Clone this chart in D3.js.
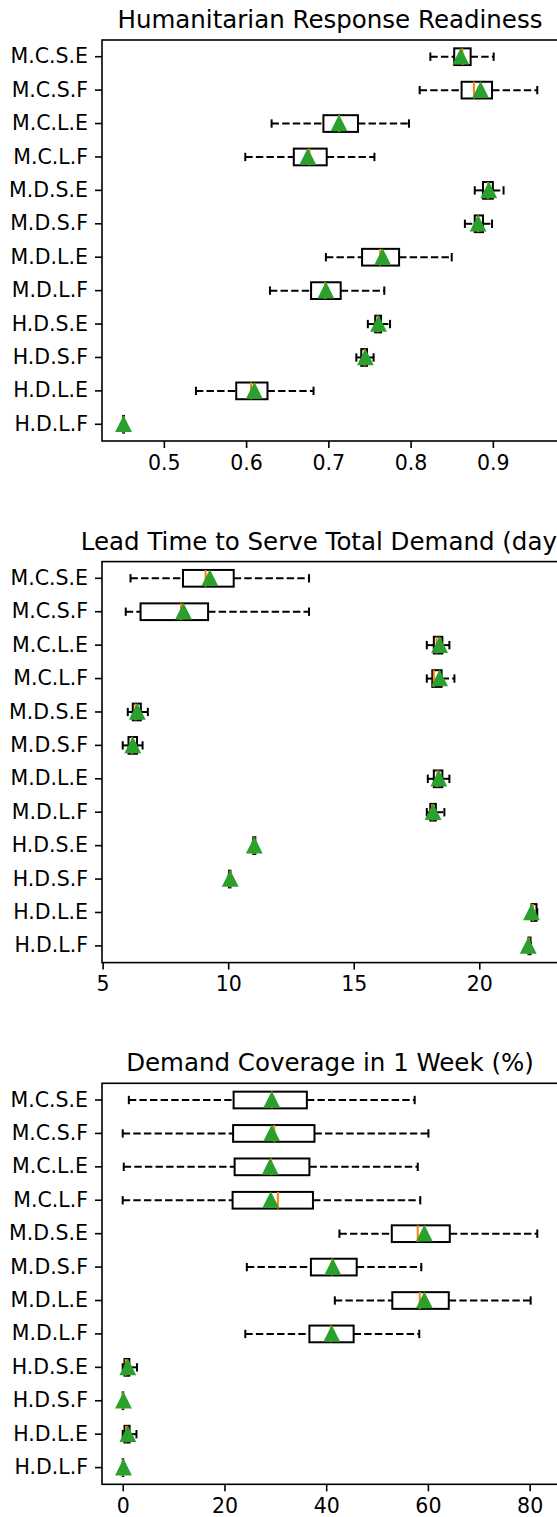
<!DOCTYPE html>
<html>
<meta charset="utf-8">
<script src="https://d3js.org/d3.v7.min.js"></script>
<style>
  body { margin: 0; background: #fff; }
  svg { display: block; overflow: hidden; }
  text { font-family: "DejaVu Sans", sans-serif; fill: #000; }
</style>
<body>
<div id="chart"></div>
<script>
// row order = top to bottom
var categories = ["M.C.S.E", "M.C.S.F", "M.C.L.E", "M.C.L.F", "M.D.S.E", "M.D.S.F",
                  "M.D.L.E", "M.D.L.F", "H.D.S.E", "H.D.S.F", "H.D.L.E", "H.D.L.F"];

// each row: [whisker low, q1, median, q3, whisker high, mean]
var readiness = [
  [0.824, 0.853, 0.863, 0.873, 0.901, 0.861],
  [0.811, 0.862, 0.877, 0.899, 0.954, 0.885],
  [0.631, 0.694, 0.713, 0.736, 0.798, 0.713],
  [0.599, 0.658, 0.677, 0.698, 0.756, 0.675],
  [0.878, 0.888, 0.894, 0.900, 0.913, 0.895],
  [0.866, 0.878, 0.882, 0.888, 0.899, 0.882],
  [0.697, 0.741, 0.763, 0.786, 0.850, 0.766],
  [0.629, 0.679, 0.696, 0.715, 0.768, 0.697],
  [0.748, 0.757, 0.760, 0.764, 0.775, 0.761],
  [0.734, 0.740, 0.744, 0.747, 0.755, 0.745],
  [0.539, 0.588, 0.606, 0.626, 0.682, 0.610],
  [0.450, 0.4505, 0.451, 0.4515, 0.452, 0.451]
];

var leadTime = [
  [6.11, 8.20, 9.10, 10.22, 13.22, 9.27],
  [5.92, 6.51, 8.12, 9.20, 13.22, 8.22],
  [17.91, 18.19, 18.30, 18.53, 18.81, 18.42],
  [17.91, 18.13, 18.19, 18.50, 19.01, 18.42],
  [6.00, 6.20, 6.31, 6.52, 6.80, 6.38],
  [5.80, 6.03, 6.17, 6.37, 6.59, 6.20],
  [17.95, 18.19, 18.33, 18.53, 18.81, 18.39],
  [17.91, 18.05, 18.13, 18.27, 18.61, 18.16],
  [10.98, 11.00, 11.04, 11.08, 11.10, 11.04],
  [10.01, 10.03, 10.06, 10.09, 10.11, 10.08],
  [22.05, 22.08, 22.14, 22.28, 22.31, 22.08],
  [21.93, 21.96, 21.99, 22.04, 22.06, 21.95]
];

var coverage = [
  [1.2, 21.8, 29.3, 36.2, 57.4, 29.3],
  [0.0, 21.7, 29.8, 37.7, 60.1, 29.3],
  [0.2, 22.0, 29.2, 36.7, 58.0, 29.0],
  [0.0, 21.6, 30.5, 37.4, 58.5, 29.1],
  [42.6, 52.9, 58.0, 64.3, 81.5, 59.3],
  [24.4, 37.0, 41.2, 46.0, 58.7, 41.3],
  [41.7, 53.0, 58.4, 64.1, 80.2, 59.3],
  [24.1, 36.7, 40.9, 45.4, 58.3, 41.1],
  [0.0, 0.35, 0.6, 1.3, 2.8, 1.0],
  [0.0, 0.0, 0.05, 0.1, 0.3, 0.15],
  [0.0, 0.35, 0.65, 1.35, 2.7, 1.0],
  [0.0, 0.0, 0.05, 0.1, 0.3, 0.15]
];

var titles = ["Humanitarian Response Readiness",
              "Lead Time to Serve Total Demand (days)",
              "Demand Coverage in 1 Week (%)"];
var readinessTicks = [0.5, 0.6, 0.7, 0.8, 0.9];
var leadTimeTicks = [5, 10, 15, 20];
var coverageTicks = [0, 20, 40, 60, 80];

var W = 557, H = 1517;
var axLeft = 102, axRight = 558, axHeight = 401;
var panelTops = [40, 561.6, 1083.3];

var svg = d3.select("#chart").append("svg")
    .attr("width", W)
    .attr("height", H);

var panels = [
  { data: readiness, ticks: readinessTicks, fmt: d3.format(".1f") },
  { data: leadTime, ticks: leadTimeTicks, fmt: d3.format("d") },
  { data: coverage, ticks: coverageTicks, fmt: d3.format("d") }
];

panels.forEach(function(p, k) {
  var top = panelTops[k];
  var g = svg.append("g");

  // matplotlib style 5% margin
  var lo = d3.min(p.data, function(r) { return d3.min(r); });
  var hi = d3.max(p.data, function(r) { return d3.max(r); });
  var pad = (hi - lo) * 0.05;
  var x = d3.scaleLinear().domain([lo - pad, hi + pad]).range([axLeft, axRight]);
  var y = d3.scaleBand().domain(categories).range([top, top + axHeight]).padding(0);
  var bw = y.bandwidth();

  var rows = g.selectAll("g.row")
    .data(p.data)
    .enter().append("g")
      .attr("class", "row")
      .attr("transform", function(d, i) { return "translate(0," + (y(categories[i]) + bw / 2) + ")"; });

  // whiskers
  rows.append("line")
      .attr("x1", function(d) { return x(d[0]); })
      .attr("x2", function(d) { return x(d[1]); })
      .attr("stroke", "#000").attr("stroke-width", 2)
      .attr("stroke-dasharray", "7.4,3.2");
  rows.append("line")
      .attr("x1", function(d) { return x(d[3]); })
      .attr("x2", function(d) { return x(d[4]); })
      .attr("stroke", "#000").attr("stroke-width", 2)
      .attr("stroke-dasharray", "7.4,3.2");

  // caps
  [0, 4].forEach(function(j) {
    rows.append("line")
        .attr("x1", function(d) { return x(d[j]); })
        .attr("x2", function(d) { return x(d[j]); })
        .attr("y1", -bw / 8).attr("y2", bw / 8)
        .attr("stroke", "#000").attr("stroke-width", 2);
  });

  // box
  rows.append("rect")
      .attr("x", function(d) { return x(d[1]); })
      .attr("width", function(d) { return Math.max(0, x(d[3]) - x(d[1])); })
      .attr("y", -bw / 4)
      .attr("height", bw / 2)
      .attr("fill", "none")
      .attr("stroke", "#000").attr("stroke-width", 2);

  // median
  rows.append("line")
      .attr("x1", function(d) { return x(d[2]); })
      .attr("x2", function(d) { return x(d[2]); })
      .attr("y1", -bw / 4).attr("y2", bw / 4)
      .attr("stroke", "#ff7f0e").attr("stroke-width", 2);

  // mean marker
  var m = 6.8;
  rows.append("path")
      .attr("d", function(d) {
        var cx = x(d[5]);
        return "M" + cx + "," + (-m) + "L" + (cx - m) + "," + m + "L" + (cx + m) + "," + m + "Z";
      })
      .attr("fill", "#2ca02c")
      .attr("stroke", "#2ca02c").attr("stroke-width", 2);

  // axes
  var xAxis = g.append("g")
      .attr("transform", "translate(0," + (top + axHeight) + ")")
      .call(d3.axisBottom(x).tickValues(p.ticks).tickFormat(p.fmt).tickSize(7).tickPadding(7).tickSizeOuter(0));
  var yAxis = g.append("g")
      .attr("transform", "translate(" + axLeft + ",0)")
      .call(d3.axisLeft(y).tickSize(7).tickPadding(7).tickSizeOuter(0));

  [xAxis, yAxis].forEach(function(a) {
    a.select(".domain").remove();
    a.selectAll(".tick line").attr("stroke", "#000").attr("stroke-width", 1.6);
    a.selectAll("text").style("font-size", "20.5px").style("font-family", "DejaVu Sans").attr("fill", "#000");
  });

  // frame
  g.append("rect")
      .attr("x", axLeft).attr("y", top)
      .attr("width", axRight - axLeft).attr("height", axHeight)
      .attr("fill", "none").attr("stroke", "#000").attr("stroke-width", 1.6);

  g.append("text")
      .attr("x", (axLeft + axRight) / 2)
      .attr("y", top - 12)
      .attr("text-anchor", "middle")
      .style("font-size", "24.5px")
      .text(titles[k]);
});
</script>
</body>
</html>
